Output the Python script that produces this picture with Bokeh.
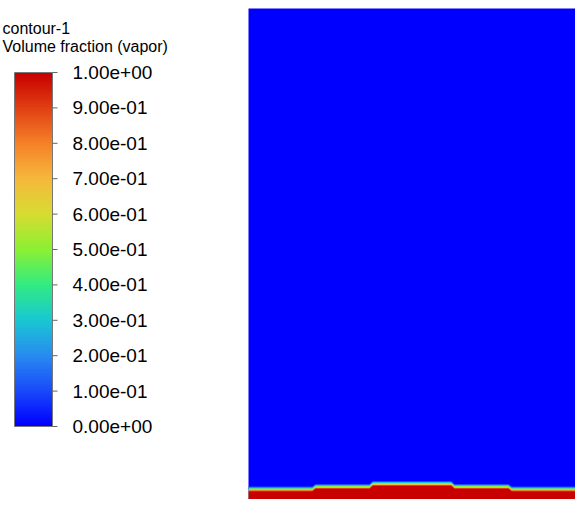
import numpy as np
from bokeh.plotting import figure
from bokeh.layouts import row
from bokeh.models import Range1d, LinearColorMapper
from bokeh.core.properties import value
from bokeh.embed import file_html
from bokeh.resources import INLINE

# ---------------- data ----------------
title_lines = ["contour-1", "Volume fraction (vapor)"]
tick_values = [0.0, 0.1, 0.2, 0.3, 0.4, 0.5, 0.6, 0.7, 0.8, 0.9, 1.0]
tick_labels = ["0.00e+00", "1.00e-01", "2.00e-01", "3.00e-01", "4.00e-01",
               "5.00e-01", "6.00e-01", "7.00e-01", "8.00e-01", "9.00e-01", "1.00e+00"]

# domain (mm) and vapour-film interface profile (mm)
domain_width = 200.0
domain_height = 300.0
interface_x = [0, 39, 41, 74, 76, 124, 126, 159, 161, 200]
interface_y = [6.4, 6.4, 7.9, 7.9, 9.8, 9.8, 7.9, 7.9, 6.4, 6.4]

# volume-fraction levels across the thin interface band (outside -> inside)
band_levels = [0.1, 0.3, 0.5, 0.7, 0.9, 1.0]

# ---------------- colour map (style) ----------------
anchor_pos = [0.0, 0.1, 0.2, 0.3, 0.4, 0.5, 0.6, 0.7, 0.8, 0.9, 1.0]
anchor_rgb = [(0, 0, 255), (25, 75, 250), (40, 140, 240), (25, 200, 210),
              (50, 235, 130), (140, 240, 50), (215, 220, 50), (245, 185, 60),
              (245, 130, 40), (225, 65, 20), (200, 0, 0)]
ncol = 256
grid = np.linspace(0, 1, ncol)
chan = [np.interp(grid, anchor_pos, [c[k] for c in anchor_rgb]) for k in range(3)]
palette = ["#%02x%02x%02x" % (int(round(r)), int(round(g)), int(round(b)))
           for r, g, b in zip(*chan)]
mapper = LinearColorMapper(palette=palette, low=0.0, high=1.0)


def color_of(v):
    i = int(round(v * (ncol - 1)))
    return palette[max(0, min(ncol - 1, i))]


FONT = value("Liberation Sans")

# ---------------- layout constants (screen pixels) ----------------
H = 499
FRAME_TOP = 8            # both frames start 8px down
BAR_PX = 354.0           # pixel length of bar (value 0 -> 1)
BAR_TOP = 72.0           # screen row of value 1
top_v = 1 + (BAR_TOP - FRAME_TOP) / BAR_PX
bot_v = -(H - BAR_TOP - BAR_PX) / BAR_PX

# ---------------- colour bar panel ----------------
left = figure(width=248, height=H, x_range=Range1d(0, 248), y_range=Range1d(bot_v, top_v),
              output_backend="svg", toolbar_location=None, min_border=0,
              min_border_top=FRAME_TOP)
left.axis.visible = False
left.grid.visible = False
left.outline_line_color = None

bar = np.linspace(0, 1, 400).reshape(-1, 1)
left.image(image=[bar], x=14, y=0, dw=38, dh=1, color_mapper=mapper)
left.quad(left=[14], right=[52], bottom=[0], top=[1], fill_color=None,
          line_color="#777777", line_width=1)
left.segment(x0=[52] * len(tick_values), x1=[57] * len(tick_values),
             y0=tick_values, y1=tick_values, line_color="#666666", line_width=1)
left.text(x=[72] * len(tick_values), y=tick_values, text=tick_labels,
          text_font=FONT, text_font_size="19px", text_color="#000000",
          text_baseline="middle", text_align="left")
title_y = [1 + (BAR_TOP - 28) / BAR_PX, 1 + (BAR_TOP - 46) / BAR_PX]
left.text(x=[2, 2], y=title_y, text=title_lines,
          text_font=FONT, text_font_size="16px", text_color="#000000",
          text_baseline="middle", text_align="left")

# ---------------- contour panel ----------------
right = figure(width=327, height=H, x_range=Range1d(0, domain_width),
               y_range=Range1d(0, domain_height),
               output_backend="svg", toolbar_location=None, min_border=0,
               min_border_top=FRAME_TOP)
right.axis.visible = False
right.grid.visible = False
right.outline_line_color = None
right.background_fill_color = color_of(0.0)
right.border_fill_color = "#ffffff"

px = domain_height / 491.0
offsets_px = [2.5, 1.5, 0.5, -0.5, -1.5, -2.5]
iy = np.array(interface_y, dtype=float)
for lev, off in zip(band_levels, offsets_px):
    right.varea(x=interface_x, y1=[0] * len(interface_x), y2=list(iy + off * px),
                fill_color=color_of(lev))

layout = row(left, right)
open("out.html", "w").write(file_html(layout, INLINE))
